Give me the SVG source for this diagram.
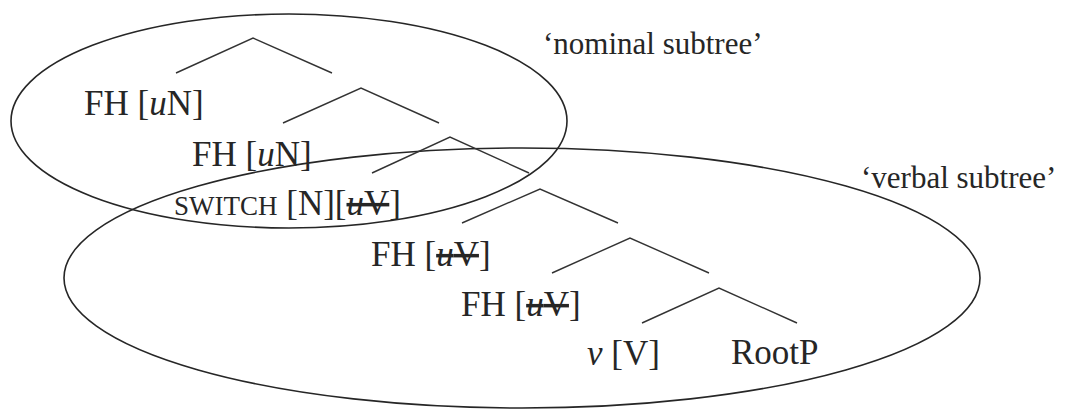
<svg xmlns="http://www.w3.org/2000/svg" width="1066" height="412" viewBox="0 0 1066 412">
<style>
  .bg{fill:#ffffff}
  .ell{fill:none;stroke:#262626;stroke-width:1.6}
  .edge{fill:none;stroke:#333333;stroke-width:1.4;stroke-linejoin:miter}
  .lbl{font-family:"Liberation Serif","Times New Roman",serif;font-size:35px;fill:#262626}
  .cap{font-family:"Liberation Serif","Times New Roman",serif;font-size:31px;fill:#262626}
  .it{font-style:italic}
  .sc{font-size:27px}
  .strike{text-decoration:line-through}
</style>
<rect class="bg" x="0" y="0" width="1066" height="412"/>
<g id="nominal-subtree">
  <ellipse class="ell" cx="289" cy="121" rx="278" ry="107"/>
  <text class="cap" x="543" y="54">‘nominal subtree’</text>
</g>
<g id="verbal-subtree">
  <ellipse class="ell" cx="522" cy="278" rx="458" ry="130"/>
  <text class="cap" x="861" y="188">‘verbal subtree’</text>
</g>
<g id="connectors">
  <polyline class="edge" points="176,73 253,38 332,73"/>
  <polyline class="edge" points="283,123 361,88 439,123"/>
  <polyline class="edge" points="372,173 450,137 529,173"/>
  <polyline class="edge" points="462,223 540,189 618,223"/>
  <polyline class="edge" points="552,273 630,238 709,273"/>
  <polyline class="edge" points="642,323 719,288 797,323"/>
</g>
<g id="fh1"><text class="lbl" x="84" y="115">FH [<tspan class="it">u</tspan>N]</text></g>
<g id="fh2"><text class="lbl" x="192" y="166">FH [<tspan class="it">u</tspan>N]</text></g>
<g id="switch"><text class="lbl" x="174" y="215"><tspan class="sc">SWITCH</tspan> [N][<tspan class="strike"><tspan class="it">u</tspan>V</tspan>]</text></g>
<g id="fh3"><text class="lbl" x="371" y="266">FH [<tspan class="strike"><tspan class="it">u</tspan>V</tspan>]</text></g>
<g id="fh4"><text class="lbl" x="461" y="316">FH [<tspan class="strike"><tspan class="it">u</tspan>V</tspan>]</text></g>
<g id="vV"><text class="lbl" x="587" y="365"><tspan class="it">v</tspan> [V]</text></g>
<g id="rootp"><text class="lbl" x="731" y="364">RootP</text></g>
</svg>
